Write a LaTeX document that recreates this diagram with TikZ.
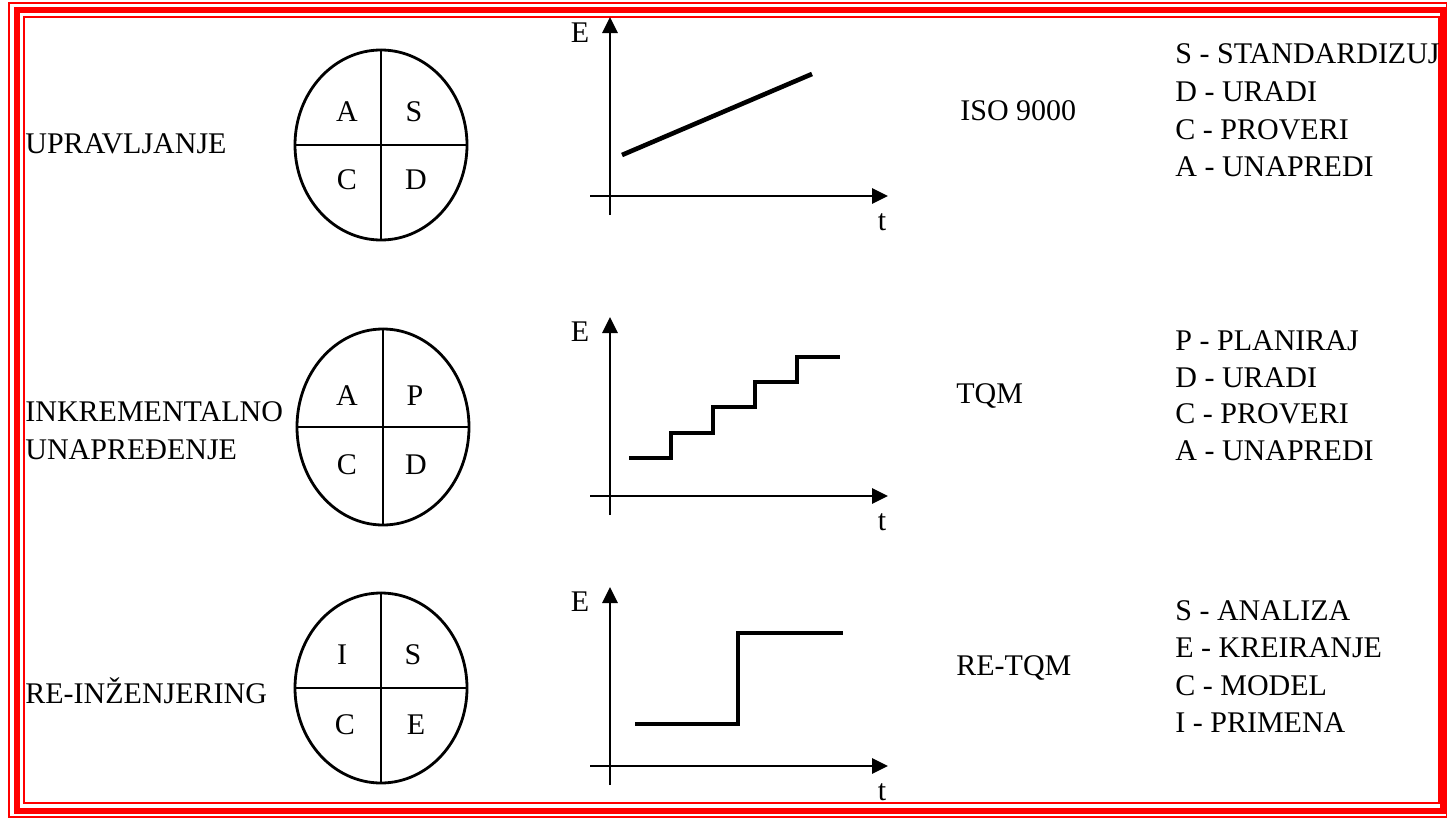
\documentclass[tikz,border=0pt]{standalone}
\usepackage{fontspec}
\setmainfont{Liberation Serif}
\usetikzlibrary{arrows.meta,positioning,shapes.geometric}

\begin{document}
\begin{tikzpicture}[x=0.5pt, y=-0.5pt]
    % Styles
    \tikzstyle{rowtext} = [inner sep=0pt, anchor=base west, font=\fontsize{15}{18}\selectfont]
    \tikzstyle{letter} = [inner sep=0pt, font=\fontsize{15}{18}\selectfont]
    \tikzstyle{pdca} = [ellipse, draw, line width=1.4pt, inner sep=0pt, minimum width=86pt, minimum height=95pt]
    \tikzstyle{split} = [line width=1.4pt]
    \tikzstyle{axisarrow} = [line width=1.4pt, -{Triangle[length=8pt,width=7.5pt]}]
    \tikzstyle{trend} = [line width=2.3pt]

    \useasboundingbox (0,0) rectangle (1447,819);

    % Frame
    \draw[red, line width=1pt] (9,3) rectangle (1446.5,817);
    \draw[red, line width=3pt] (17,10) rectangle (1443,811);
    \draw[red, line width=1pt] (23.5,17) rectangle (1438.5,803);

    % Row 1
    \node [rowtext] (name1) at (25,153) {UPRAVLJANJE};
    \node [pdca] (circ1) at (381,145) {};
    \draw[split] (circ1.north) -- (circ1.south);
    \draw[split] (circ1.west) -- (circ1.east);
    \node [letter] (circ1a) at (347,112) {A};
    \node [letter] (circ1b) at (414,112) {S};
    \node [letter] (circ1c) at (347,180) {C};
    \node [letter] (circ1d) at (416,180) {D};

    \coordinate (ya1) at (610,215);
    \coordinate (yb1) at (610,17);
    \coordinate (xa1) at (590,196);
    \coordinate (xb1) at (888,196);
    \draw[axisarrow] (ya1) -- (yb1);
    \draw[axisarrow] (xa1) -- (xb1);
    \node [letter] (e1) at (580,33) {E};
    \node [letter] (t1) at (882,222) {t};
    \draw[trend] (622,155) -- (812,74);

    \node [rowtext] (std1) at (960,120) {ISO 9000};
    \node [rowtext] (list1a) at (1175,63) {S - STANDARDIZUJ};
    \node [rowtext] (list1b) at (1175,101) {D - URADI};
    \node [rowtext] (list1c) at (1175,139) {C - PROVERI};
    \node [rowtext] (list1d) at (1175,176) {A - UNAPREDI};

    % Row 2
    \node [rowtext] (name2a) at (25,421) {INKREMENTALNO};
    \node [rowtext] (name2b) at (25,459) {UNAPREĐENJE};
    \node [pdca, minimum height=98pt] (circ2) at (383,427) {};
    \draw[split] (circ2.north) -- (circ2.south);
    \draw[split] (circ2.west) -- (circ2.east);
    \node [letter] (circ2a) at (347,396) {A};
    \node [letter] (circ2b) at (415,396) {P};
    \node [letter] (circ2c) at (347,465) {C};
    \node [letter] (circ2d) at (416,465) {D};

    \coordinate (ya2) at (610,515);
    \coordinate (yb2) at (610,317);
    \coordinate (xa2) at (590,496);
    \coordinate (xb2) at (888,496);
    \draw[axisarrow] (ya2) -- (yb2);
    \draw[axisarrow] (xa2) -- (xb2);
    \node [letter] (e2) at (580,332) {E};
    \node [letter] (t2) at (882,522) {t};
    \draw[trend] (629,458) -| (671,433) -| (713,407) -| (755,382) -| (797,357) -- (840,357);

    \node [rowtext] (std2) at (956,403) {TQM};
    \node [rowtext] (list2a) at (1175,350) {P - PLANIRAJ};
    \node [rowtext] (list2b) at (1175,387) {D - URADI};
    \node [rowtext] (list2c) at (1175,423) {C - PROVERI};
    \node [rowtext] (list2d) at (1175,460) {A - UNAPREDI};

    % Row 3
    \node [rowtext] (name3) at (25,703) {RE-INŽENJERING};
    \node [pdca] (circ3) at (381,688) {};
    \draw[split] (circ3.north) -- (circ3.south);
    \draw[split] (circ3.west) -- (circ3.east);
    \node [letter] (circ3a) at (342,655) {I};
    \node [letter] (circ3b) at (413,655) {S};
    \node [letter] (circ3c) at (345,725) {C};
    \node [letter] (circ3d) at (416,725) {E};

    \coordinate (ya3) at (610,785);
    \coordinate (yb3) at (610,587);
    \coordinate (xa3) at (590,766);
    \coordinate (xb3) at (888,766);
    \draw[axisarrow] (ya3) -- (yb3);
    \draw[axisarrow] (xa3) -- (xb3);
    \node [letter] (e3) at (580,602) {E};
    \node [letter] (t3) at (882,792) {t};
    \draw[trend] (635,724) -| (738,633) -- (843,633);

    \node [rowtext] (std3) at (956,675) {RE-TQM};
    \node [rowtext] (list3a) at (1175,620) {S - ANALIZA};
    \node [rowtext] (list3b) at (1175,657) {E - KREIRANJE};
    \node [rowtext] (list3c) at (1175,695) {C - MODEL};
    \node [rowtext] (list3d) at (1175,732) {I - PRIMENA};
\end{tikzpicture}
\end{document}
